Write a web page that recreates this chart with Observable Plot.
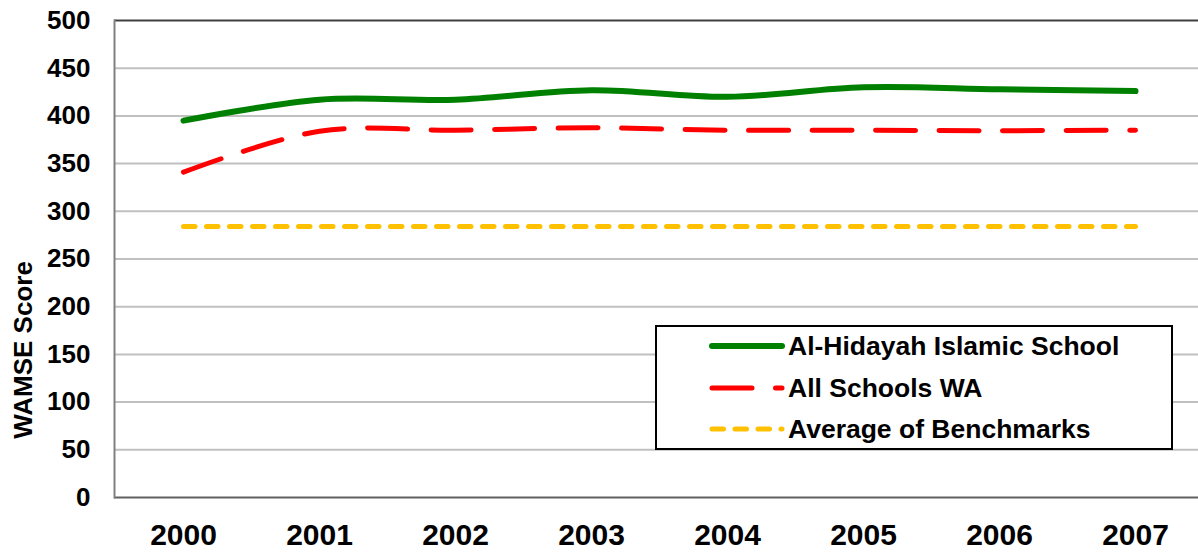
<!DOCTYPE html>
<html>
<head>
<meta charset="utf-8">
<script src="https://cdn.jsdelivr.net/npm/d3@7"></script>
<script src="https://cdn.jsdelivr.net/npm/@observablehq/plot@0.6"></script>
<style>
  body { margin: 0; background: #fff; }
  #wrap { position: relative; width: 1198px; height: 552px; font-family: "Liberation Sans", Arial, sans-serif; }
  #legend { position: absolute; left: 655px; top: 325px; width: 514px; height: 121px; border: 2px solid #000; background: #fff; }
  .row { position: absolute; left: 52px; height: 30px; display: flex; align-items: center; }
  .row span { font-size: 26.5px; font-weight: bold; color: #000; margin-left: 3px; white-space: nowrap; }
  #ylabel { position: absolute; left: 23px; top: 350px; transform: translate(-50%, -50%) rotate(-90deg);
    font-size: 26px; font-weight: bold; color: #000; white-space: nowrap; }
</style>
</head>
<body>
<div id="wrap"></div>
<script>
const years = ["2000", "2001", "2002", "2003", "2004", "2005", "2006", "2007"];
const alHidayah = [395, 417, 417, 427, 420, 430, 428, 426];
const allSchools = [341, 384, 385, 387.5, 385, 385, 384.5, 385];
const benchmarks = [284, 284, 284, 284, 284, 284, 284, 284];
const yTicks = [0, 50, 100, 150, 200, 250, 300, 350, 400, 450, 500];
const gridTicks = [50, 100, 150, 200, 250, 300, 350, 400, 450];
const seriesNames = ["Al-Hidayah Islamic School", "All Schools WA", "Average of Benchmarks"];
const yTitle = "WAMSE Score";

const rows = (vals) => years.map((y, i) => ({year: y, value: vals[i]}));

const chart = Plot.plot({
  width: 1198,
  height: 552,
  marginLeft: 114,
  marginRight: 0,
  marginTop: 20,
  marginBottom: 55,
  style: {fontFamily: "Liberation Sans, Arial, sans-serif", background: "#fff", color: "#000", overflow: "visible"},
  x: {type: "point", domain: years, range: [181, 1136], padding: 0},
  y: {domain: [0, 500]},
  marks: [
    Plot.gridY(gridTicks, {stroke: "#c0c0c0", strokeOpacity: 1, strokeWidth: 2}),
    Plot.ruleY([500], {stroke: "#404040", strokeWidth: 2}),
    Plot.ruleY([0], {stroke: "#606060", strokeWidth: 2}),
    Plot.frame({anchor: "left", stroke: "#808080", strokeWidth: 2}),
    Plot.axisY(yTicks, {tickSize: 0, tickPadding: 24, fontSize: 26, fontWeight: "bold", label: null}),
    Plot.axisX({tickSize: 0, tickPadding: 26, fontSize: 30, fontWeight: "bold", label: null}),
    Plot.line(rows(benchmarks), {x: "year", y: "value", stroke: "#ffc000", strokeWidth: 5,
      strokeDasharray: "11.5,11.5", strokeLinecap: "round"}),
    Plot.line(rows(allSchools), {x: "year", y: "value", stroke: "#ff0000", strokeWidth: 5,
      strokeDasharray: "40,23.5", strokeLinecap: "round", curve: "catmull-rom"}),
    Plot.line(rows(alHidayah), {x: "year", y: "value", stroke: "#008000", strokeWidth: 6,
      strokeLinecap: "round", curve: "catmull-rom"})
  ]
});

const wrap = document.getElementById("wrap");
wrap.appendChild(chart);

const yl = document.createElement("div");
yl.id = "ylabel";
yl.textContent = yTitle;
wrap.appendChild(yl);

// Legend (HTML overlay inside the plot area)
const legendStyles = [
  {color: "#008000", width: 6, dash: null},
  {color: "#ff0000", width: 5, dash: "40,23.5"},
  {color: "#ffc000", width: 5, dash: "11.5,11.5"}
];
const legend = document.createElement("div");
legend.id = "legend";
const rowTops = [4, 46, 87];
seriesNames.forEach((name, i) => {
  const r = document.createElement("div");
  r.className = "row";
  r.style.top = rowTops[i] + "px";
  const s = legendStyles[i];
  const svg = d3.create("svg").attr("width", 76).attr("height", 30);
  svg.append("line").attr("x1", 3).attr("x2", 73).attr("y1", 15).attr("y2", 15)
    .attr("stroke", s.color).attr("stroke-width", s.width).attr("stroke-linecap", "round")
    .attr("stroke-dasharray", s.dash);
  r.appendChild(svg.node());
  const t = document.createElement("span");
  t.textContent = name;
  r.appendChild(t);
  legend.appendChild(r);
});
wrap.appendChild(legend);
</script>
</body>
</html>
